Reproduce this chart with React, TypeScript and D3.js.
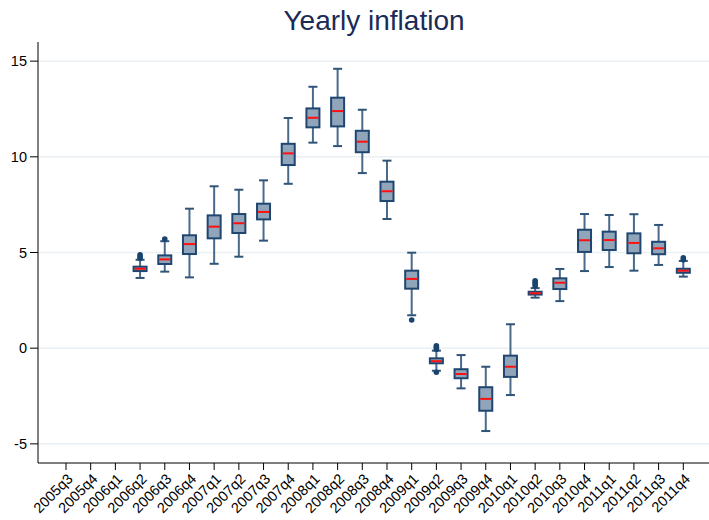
import React from "react";
import * as d3 from "d3";

const categories = [
  "2005q3","2005q4","2006q1","2006q2","2006q3","2006q4","2007q1","2007q2","2007q3","2007q4",
  "2008q1","2008q2","2008q3","2008q4","2009q1","2009q2","2009q3","2009q4","2010q1","2010q2",
  "2010q3","2010q4","2011q1","2011q2","2011q3","2011q4",
];

// whisker low, q1, median, q3, whisker high (null = no data)
const lows =    [null,null,null,3.67,4.00,3.70,4.41,4.78,5.62,8.59,10.74,10.56,9.15,6.75,1.72,-1.18,-2.10,-4.33,-2.45,2.64,2.46,4.03,4.24,4.05,4.35,3.74];
const q1s =     [null,null,null,4.03,4.40,4.92,5.74,6.02,6.73,9.57,11.54,11.59,10.24,7.69,3.11,-0.79,-1.57,-3.27,-1.50,2.80,3.09,5.03,5.13,4.96,4.91,3.94];
const medians = [null,null,null,4.15,4.64,5.44,6.35,6.53,7.12,10.18,12.04,12.39,10.79,8.20,3.62,-0.68,-1.35,-2.65,-0.97,2.87,3.42,5.64,5.65,5.50,5.22,4.05];
const q3s =     [null,null,null,4.26,4.85,5.90,6.94,7.01,7.55,10.68,12.53,13.09,11.36,8.70,4.05,-0.53,-1.10,-2.04,-0.39,2.95,3.65,6.19,6.09,6.00,5.56,4.15];
const highs =   [null,null,null,4.62,5.59,7.29,8.46,8.28,8.77,12.03,13.66,14.60,12.46,9.80,4.99,-0.13,-0.36,-0.97,1.25,3.14,4.14,7.01,6.96,7.00,6.44,4.56];

const outliers: [string, number][] = [
  ["2006q2", 4.7], ["2006q2", 4.8], ["2006q2", 4.88],
  ["2006q3", 5.7],
  ["2009q1", 1.47],
  ["2009q2", -0.05], ["2009q2", 0.05], ["2009q2", 0.12], ["2009q2", -1.26],
  ["2010q2", 3.25], ["2010q2", 3.35], ["2010q2", 3.45], ["2010q2", 3.52],
  ["2011q4", 4.62], ["2011q4", 4.72],
];

const yTicks = [-5, 0, 5, 10, 15];

const W = 709, H = 520;
const left = 38, bottom = 463, top = 42;

export default function App() {
  const x = d3.scalePoint<string>().domain(categories).range([66, 683.3]);
  const y = d3.scaleLinear().domain([-6, 16]).range([bottom, top]);
  const boxW = 13, capW = 9;
  const font = "Liberation Sans, Arial, sans-serif";

  return (
    <svg width={W} height={H} style={{ position: "absolute", left: 0, top: 0 }}>
      <rect width={W} height={H} fill="#fff" />
      <text x={374} y={30} textAnchor="middle" fontSize={28} fontFamily={font} fill="#1a2b57">
        Yearly inflation
      </text>
      {yTicks.map((t) => (
        <g key={t}>
          <line x1={left} x2={W} y1={y(t)} y2={y(t)} stroke="#eaf0f3" strokeWidth={1.5} />
          <line x1={left - 8} x2={left} y1={y(t)} y2={y(t)} stroke="#000" strokeWidth={1} />
          <text x={left - 11} y={y(t)} dy="0.36em" textAnchor="end" fontSize={14.5} fontFamily={font} fill="#000">
            {t}
          </text>
        </g>
      ))}
      <line x1={left} x2={left} y1={top} y2={bottom} stroke="#000" strokeWidth={1} />
      <line x1={left} x2={W} y1={bottom} y2={bottom} stroke="#000" strokeWidth={1} />
      {categories.map((c) => (
        <g key={c}>
          <line x1={x(c)!} x2={x(c)!} y1={bottom} y2={bottom + 7} stroke="#000" strokeWidth={1} />
          <text
            transform={`translate(${x(c)! + 4},${bottom + 13}) rotate(-45)`}
            textAnchor="end"
            dy="0.36em"
            fontSize={14.5}
            fontFamily={font}
            fill="#000"
          >
            {c}
          </text>
        </g>
      ))}
      {categories.map((c, i) => {
        if (medians[i] == null) return null;
        const cx = x(c)!;
        return (
          <g key={"b" + c}>
            <line x1={cx} x2={cx} y1={y(highs[i]!)} y2={y(q3s[i]!)} stroke="#4a6a8c" strokeWidth={2} />
            <line x1={cx} x2={cx} y1={y(q1s[i]!)} y2={y(lows[i]!)} stroke="#4a6a8c" strokeWidth={2} />
            <line x1={cx - capW / 2} x2={cx + capW / 2} y1={y(highs[i]!)} y2={y(highs[i]!)} stroke="#2f5478" strokeWidth={2} />
            <line x1={cx - capW / 2} x2={cx + capW / 2} y1={y(lows[i]!)} y2={y(lows[i]!)} stroke="#2f5478" strokeWidth={2} />
            <rect
              x={cx - boxW / 2}
              y={y(q3s[i]!)}
              width={boxW}
              height={y(q1s[i]!) - y(q3s[i]!)}
              fill="#91a5ba"
              stroke="#1f4670"
              strokeWidth={2}
            />
            <line x1={cx - boxW / 2 + 1} x2={cx + boxW / 2 - 1} y1={y(medians[i]!)} y2={y(medians[i]!)} stroke="#ff1010" strokeWidth={2} />
          </g>
        );
      })}
      {outliers.map(([c, v], k) => (
        <circle key={"o" + k} cx={x(c)!} cy={y(v)} r={2.8} fill="#1a4470" />
      ))}
    </svg>
  );
}
